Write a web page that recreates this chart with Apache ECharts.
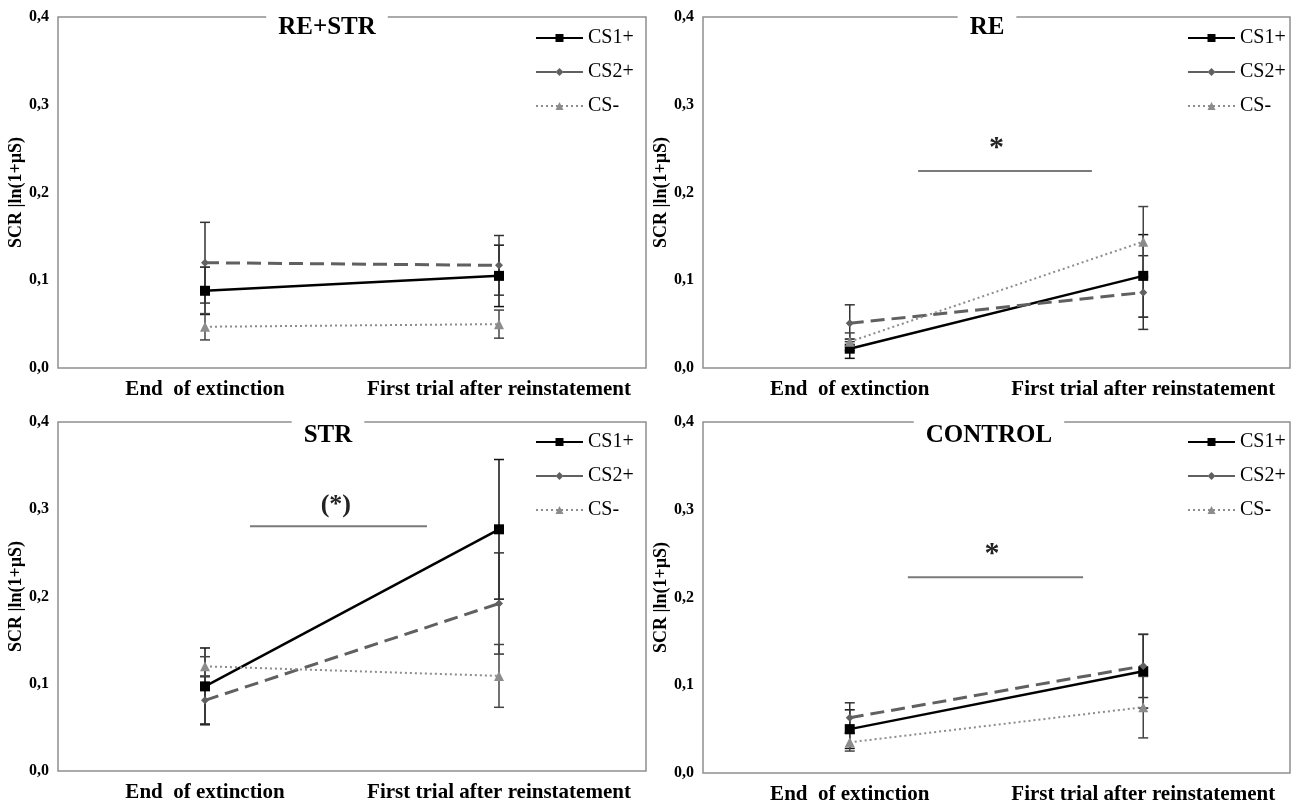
<!DOCTYPE html>
<html>
<head>
<meta charset="utf-8">
<title>SCR reinstatement</title>
<script src="https://cdn.jsdelivr.net/npm/echarts@6/dist/echarts.min.js"></script>
<style>
  html, body { margin: 0; background: #fff; }
  #chart { width: 1295px; height: 806px; }
</style>
</head>
<body>
<div id="chart"></div>
<script>
// data
var categories = ['End  of extinction', 'First trial after reinstatement'];
var panelNames = ['RE+STR', 'RE', 'STR', 'CONTROL'];
var seriesNames = ['CS1+', 'CS2+', 'CS-'];
var yTickLabels = ['0,0', '0,1', '0,2', '0,3', '0,4'];

// means per panel: [end of extinction, first trial after reinstatement]
var cs1Mean = [[0.088, 0.105], [0.022, 0.105], [0.097, 0.277], [0.050, 0.116]];
var cs2Mean = [[0.120, 0.117], [0.051, 0.086], [0.081, 0.192], [0.063, 0.122]];
var csMinusMean = [[0.047, 0.050], [0.030, 0.144], [0.120, 0.109], [0.035, 0.075]];

// error bar half widths
var cs1Err = [[0.027, 0.035], [0.011, 0.047], [0.044, 0.080], [0.022, 0.042]];
var cs2Err = [[0.046, 0.034], [0.021, 0.042], [0.027, 0.058], [0.017, 0.036]];
var csMinusErr = [[0.015, 0.016], [0.010, 0.040], [0.011, 0.036], [0.010, 0.035]];

// significance bars (level on y axis, label)
var sigLevel = [null, 0.2245, 0.2805, 0.223];
var sigLabel = ['', '*', '(*)', '*'];
var sigLabelLevel = [null, 0.25, 0.305, 0.249];

var means = [cs1Mean, cs2Mean, csMinusMean];
var errs = [cs1Err, cs2Err, csMinusErr];

// layout
var grids = [
  { left: 58, top: 17, width: 588, height: 351 },
  { left: 703, top: 17, width: 587, height: 351 },
  { left: 58, top: 422, width: 588, height: 349 },
  { left: 703, top: 422, width: 587, height: 351 }
];
var titleX = [315, 975, 316, 977];
var titleY = [12, 12, 420, 420];
var legendX = [530, 1182, 530, 1182];
var legendY = [23, 23, 427, 427];
// horizontal extent of the significance bar, as a fraction between the two categories
var sigFrom = [0, 0.233, 0.153, 0.198];
var sigTo = [0, 0.825, 0.755, 0.795];
var sigTextAt = [0, 0.50, 0.445, 0.485];

var styles = [
  { color: '#000000', err: '#111111', type: 'solid', legendType: 'solid', width: 2.5, symbol: 'rect', size: 10 },
  { color: '#606060', err: '#333333', type: [14, 7], legendType: [20, 7], width: 3, symbol: 'diamond', size: 8 },
  { color: '#8c8c8c', err: '#444444', type: [2, 3], legendType: [2, 3], width: 2, symbol: 'triangle', size: 10 }
];

var serif = "'Liberation Serif', 'Times New Roman', serif";

var chartDom = document.getElementById('chart');
var myChart = echarts.init(chartDom);

var option = {
  animation: false,
  backgroundColor: '#fff',
  title: [],
  legend: [],
  grid: [],
  xAxis: [],
  yAxis: [],
  series: []
};

function errorBarItem(params, api) {
  var x = api.value(0);
  var lo = api.coord([x, api.value(1)]);
  var hi = api.coord([x, api.value(2)]);
  var cap = 5;
  var st = api.style({ stroke: api.visual('color'), lineWidth: 1.5, fill: null });
  return {
    type: 'group',
    children: [
      { type: 'line', shape: { x1: hi[0], y1: hi[1], x2: lo[0], y2: lo[1] }, style: st },
      { type: 'line', shape: { x1: hi[0] - cap, y1: hi[1], x2: hi[0] + cap, y2: hi[1] }, style: st },
      { type: 'line', shape: { x1: lo[0] - cap, y1: lo[1], x2: lo[0] + cap, y2: lo[1] }, style: st }
    ]
  };
}

for (var p = 0; p < 4; p++) {
  option.grid.push({
    left: grids[p].left, top: grids[p].top, width: grids[p].width, height: grids[p].height,
    show: true, borderColor: '#8f8f8f', borderWidth: 1.5, backgroundColor: 'transparent'
  });
  option.title.push({
    text: panelNames[p],
    left: titleX[p], top: titleY[p], textAlign: 'center',
    backgroundColor: '#fff', padding: [3, 12],
    textStyle: { fontFamily: serif, fontWeight: 'bold', fontSize: 25, color: '#000' }
  });
  option.legend.push({
    data: seriesNames.map(function (n, i) {
      return { name: n, lineStyle: { type: styles[i].legendType } };
    }),
    orient: 'vertical', left: legendX[p], top: legendY[p],
    itemWidth: 47, itemHeight: 10, itemGap: 14,
    selectedMode: false,
    textStyle: { fontFamily: serif, fontSize: 20, color: '#000', lineHeight: 20 }
  });
  option.xAxis.push({
    type: 'category', gridIndex: p, data: categories, boundaryGap: true,
    axisLine: { show: false }, axisTick: { show: false }, splitLine: { show: false },
    axisLabel: { interval: 0, margin: 11, fontFamily: serif, fontWeight: 'bold', fontSize: 21, color: '#000' }
  });
  option.yAxis.push({
    type: 'value', gridIndex: p, min: 0, max: 0.4, interval: 0.1,
    axisLine: { show: false }, axisTick: { show: false }, splitLine: { show: false },
    axisLabel: {
      margin: 9, fontFamily: serif, fontWeight: 'bold', fontSize: 16, color: '#000',
      formatter: function (v) { return yTickLabels[Math.round(v * 10)]; }
    },
    name: 'SCR |ln(1+µS)', nameLocation: 'middle', nameGap: 32,
    nameTextStyle: { fontFamily: serif, fontWeight: 'bold', fontSize: 18, color: '#000' }
  });

  for (var s = 0; s < 3; s++) {
    var st = styles[s];
    var m = means[s][p];
    var e = errs[s][p];
    option.series.push({
      type: 'custom', name: seriesNames[s] + ' error', xAxisIndex: p, yAxisIndex: p,
      z: 1, silent: true,
      itemStyle: { color: st.err },
      renderItem: errorBarItem,
      data: m.map(function (v, i) { return [i, v - e[i], v + e[i]]; })
    });
    option.series.push({
      type: 'line', name: seriesNames[s], xAxisIndex: p, yAxisIndex: p, z: 3,
      data: m,
      symbol: st.symbol, symbolSize: st.size,
      itemStyle: { color: st.color },
      lineStyle: { color: st.color, width: st.width, type: st.type }
    });
  }

  if (sigLevel[p] !== null) {
    (function (pi) {
      option.series.push({
        type: 'custom', name: 'sig', xAxisIndex: pi, yAxisIndex: pi, z: 4, silent: true,
        data: [[0, sigLevel[pi], sigLabelLevel[pi]]],
        renderItem: function (params, api) {
          var a = api.coord([0, api.value(1)]);
          var b = api.coord([1, api.value(1)]);
          var t = api.coord([0, api.value(2)]);
          var span = b[0] - a[0];
          return {
            type: 'group',
            children: [
              {
                type: 'line',
                shape: { x1: a[0] + span * sigFrom[pi], y1: a[1], x2: a[0] + span * sigTo[pi], y2: a[1] },
                style: { stroke: '#7a7a7a', lineWidth: 2 }
              },
              {
                type: 'text',
                style: {
                  text: sigLabel[pi], x: a[0] + span * sigTextAt[pi], y: t[1],
                  align: 'center', verticalAlign: 'middle',
                  font: 'bold ' + (sigLabel[pi] === '*' ? 30 : 26) + 'px ' + serif, fill: '#222'
                }
              }
            ]
          };
        }
      });
    })(p);
  }
}

option && myChart.setOption(option);
window.onresize = function () {
  myChart.resize();
};
</script>
</body>
</html>
